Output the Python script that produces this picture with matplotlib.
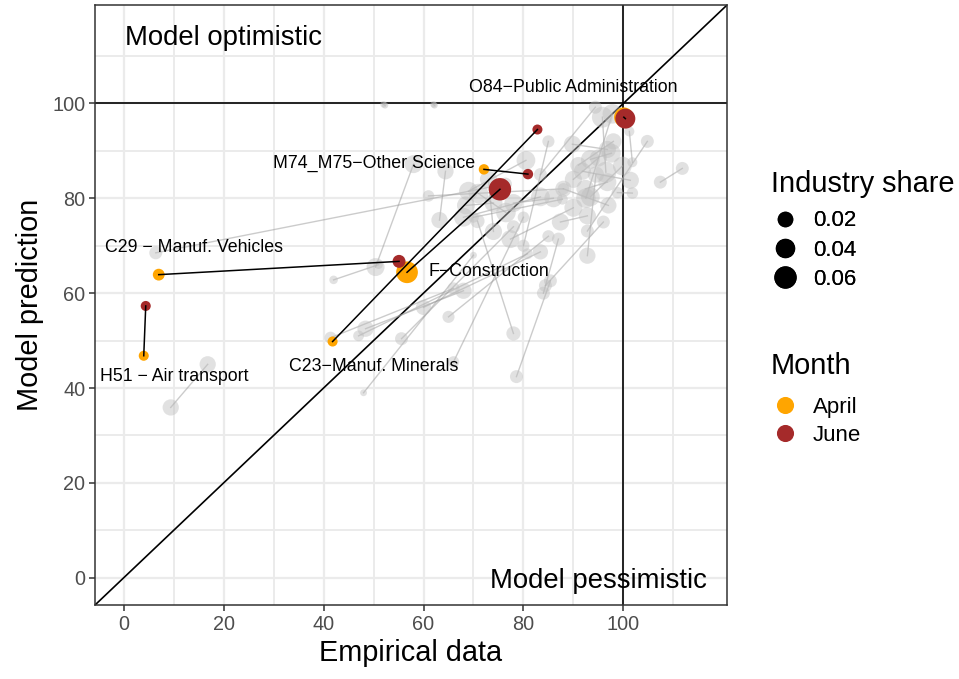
import matplotlib
matplotlib.use("Agg")
import matplotlib.pyplot as plt
from matplotlib.lines import Line2D
import numpy as np

plt.rcParams["font.family"] = ["Liberation Sans", "DejaVu Sans"]

# Highlighted industries (April -> June)
hl_names = ["O84\u2212Public Administration", "M74_M75\u2212Other Science",
            "C29 \u2212 Manuf. Vehicles", "F\u2212Construction",
            "C23\u2212Manuf. Minerals", "H51 \u2212 Air transport"]
hl_apr_x = [100.1, 72.1, 7.0, 56.7, 41.8, 4.0]
hl_apr_y = [97.1, 86.1, 63.9, 64.4, 49.8, 46.8]
hl_jun_x = [100.4, 80.9, 55.1, 75.3, 82.8, 4.4]
hl_jun_y = [96.8, 85.1, 66.7, 81.9, 94.5, 57.3]
hl_apr_share = [0.05, 0.007, 0.011, 0.066, 0.006, 0.006]
hl_jun_share = [0.053, 0.007, 0.015, 0.072, 0.006, 0.006]
lab_x = [90.0, 50.1, 14.1, 73.1, 50.1, 10.2]
lab_y = [103.8, 87.8, 70.0, 64.9, 45.0, 42.9]

# Other industries (grey)
g_apr_x = [9.4, 6.4, 58.0, 64.4, 42.0, 52.0, 62.0, 48.4, 47.0, 55.6, 66.0, 48.0,
           70.8, 78.6, 94.4, 101.2, 104.8, 111.8, 101.4, 98.8, 89.8, 93.4, 92.4,
           99.8, 87.8, 87.4, 96.0, 92.8, 87.0, 83.4, 95.8, 97.8, 85.0, 83.4, 69.0,
           71.0, 61.0, 77.4, 73.0, 86.0, 90.0, 65.0, 74.0, 41.4, 91.0, 97.0]
g_apr_y = [35.9, 68.5, 87.2, 85.7, 62.8, 99.8, 99.8, 52.5, 51.0, 50.4, 45.5, 39.0,
           75.2, 42.4, 99.2, 94.1, 92.0, 86.3, 83.8, 81.2, 91.4, 88.2, 82.0,
           86.8, 79.8, 75.0, 75.0, 67.9, 71.4, 68.7, 97.1, 97.8, 92.0, 80.3, 81.5,
           81.0, 80.5, 71.4, 84.0, 80.0, 84.0, 55.0, 79.0, 50.6, 87.0, 78.5]
g_jun_x = [16.8, 76.4, 50.4, 63.2, 51.0, 52.3, 62.2, 68.0, 80.8, 78.0, 80.0, 70.0,
           78.0, 85.4, 83.4, 101.8, 92.8, 107.4, 91.8, 101.8, 96.8, 97.6, 96.8,
           93.4, 70.0, 92.8, 84.4, 94.5, 84.0, 60.0, 96.5, 92.5, 80.0, 68.0, 80.5,
           76.5, 88.0, 90.0, 74.0, 78.0, 95.0, 85.0, 68.5, 66.0, 98.0, 88.0]
g_jun_y = [45.0, 83.0, 65.5, 75.4, 66.0, 99.6, 99.6, 60.5, 68.3, 74.0, 76.0, 68.0,
           51.5, 62.6, 85.0, 87.6, 73.1, 83.4, 85.7, 81.1, 90.3, 89.5, 83.4,
           80.3, 76.0, 76.3, 61.6, 85.0, 60.0, 57.0, 85.5, 80.0, 70.0, 76.0, 88.0,
           77.0, 82.0, 78.0, 73.0, 79.0, 88.5, 72.0, 78.5, 61.0, 92.0, 82.0]
g_share = [0.03, 0.015, 0.04, 0.03, 0.003, 0.0005, 0.0005, 0.03, 0.008, 0.015, 0.01, 0.0008,
           0.02, 0.015, 0.015, 0.006, 0.015, 0.015, 0.035, 0.01, 0.035, 0.045, 0.04,
           0.045, 0.008, 0.035, 0.015, 0.03, 0.015, 0.025, 0.06, 0.05, 0.012, 0.045, 0.045,
           0.05, 0.01, 0.04, 0.035, 0.04, 0.035, 0.012, 0.04, 0.012, 0.03, 0.03]

legend_shares = [0.02, 0.04, 0.06]
months = ["April", "June"]
month_colors = ["#FFA500", "#A52A2A"]


def diam_pt(share):
    return (5 + 65 * np.sqrt(np.asarray(share))) * 0.72


fig = plt.figure(figsize=(9.59, 6.79), dpi=100)
ax = fig.add_axes([0.0991, 0.1090, 0.6590, 0.8836])
lim = (-5.75, 120.75)
ax.set_xlim(lim)
ax.set_ylim(lim)

ax.set_xticks(range(0, 101, 20))
ax.set_yticks(range(0, 101, 20))
ax.set_xticks(range(10, 111, 20), minor=True)
ax.set_yticks(range(10, 111, 20), minor=True)
ax.grid(True, which="major", color="#EBEBEB", lw=1.6, zorder=0)
ax.grid(True, which="minor", color="#EBEBEB", lw=1.4, zorder=0)
ax.set_axisbelow(True)
ax.tick_params(which="minor", length=0)
ax.tick_params(which="major", length=4, width=1.1, color="#333333",
               labelsize=14.3, labelcolor="#4D4D4D", pad=3)
for s in ax.spines.values():
    s.set_color("#333333")
    s.set_linewidth(1.1)

# reference lines
ax.axhline(100, color="black", lw=1.2, zorder=1)
ax.axvline(100, color="black", lw=1.2, zorder=1)
ax.plot(lim, lim, color="black", lw=1.2, zorder=1)

# grey industries
for i in range(len(g_apr_x)):
    ax.plot([g_apr_x[i], g_jun_x[i]], [g_apr_y[i], g_jun_y[i]],
            color="#999999", alpha=0.5, lw=1.0, zorder=2)
ax.scatter(g_apr_x + g_jun_x, g_apr_y + g_jun_y,
           s=diam_pt(g_share + g_share) ** 2, color="#BEBEBE", alpha=0.45,
           linewidths=0, zorder=3)

# highlighted industries
ax.scatter(hl_apr_x, hl_apr_y, s=diam_pt(hl_apr_share) ** 2,
           color=month_colors[0], linewidths=0, zorder=4)
ax.scatter(hl_jun_x, hl_jun_y, s=diam_pt(hl_jun_share) ** 2,
           color=month_colors[1], linewidths=0, zorder=4)
for i in range(len(hl_names)):
    ax.plot([hl_apr_x[i], hl_jun_x[i]], [hl_apr_y[i], hl_jun_y[i]],
            color="black", lw=1.1, zorder=5)
    ax.text(lab_x[i], lab_y[i], hl_names[i], fontsize=12.8, ha="center",
            va="center_baseline", zorder=6)

ax.text(20, 114.5, "Model optimistic", fontsize=19.8, ha="center",
        va="center_baseline")
ax.text(95, 0, "Model pessimistic", fontsize=19.8, ha="center",
        va="center_baseline")

ax.set_xlabel("Empirical data", fontsize=20.8, labelpad=4)
ax.set_ylabel("Model prediction", fontsize=20.8, labelpad=6)

# legends
W, H = 959, 679
fig.text(771 / W, 1 - 191.5 / H, "Industry share", fontsize=20.9,
         ha="left", va="baseline")
fig.text(771 / W, 1 - 374.5 / H, "Month", fontsize=20.9,
         ha="left", va="baseline")

size_handles = [Line2D([], [], marker="o", ls="", color="black",
                       markersize=float(diam_pt(v))) for v in legend_shares]
leg1 = fig.legend(size_handles, [f"{v:.2f}" for v in legend_shares],
                  loc="center left", bbox_to_anchor=(772 / W, 1 - 250 / H),
                  frameon=False, prop={"size": 16},
                  handlelength=1.2, handletextpad=0.65,
                  labelspacing=0.37, borderpad=0, borderaxespad=0)
month_handles = [Line2D([], [], marker="o", ls="", color=c, markersize=11.3)
                 for c in month_colors]
leg2 = fig.legend(month_handles, months, loc="center left",
                  bbox_to_anchor=(772 / W, 1 - 421.5 / H),
                  frameon=False, prop={"size": 16},
                  handlelength=1.2, handletextpad=0.65,
                  labelspacing=0.3, borderpad=0, borderaxespad=0)
fig.add_artist(leg1)

fig.savefig("out.png", dpi=100)
